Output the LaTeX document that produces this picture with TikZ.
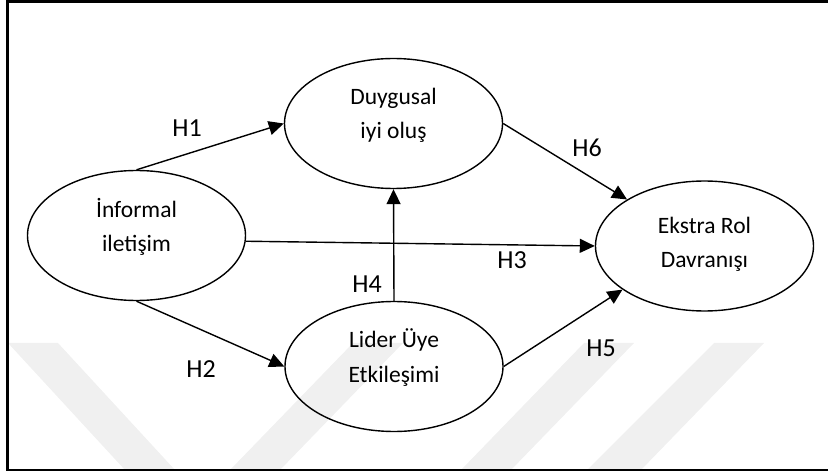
\documentclass[tikz,border=0pt]{standalone}
\usepackage{fontspec}
\setmainfont{Carlito}
\usetikzlibrary{shapes.geometric,arrows.meta}
\begin{document}
\begin{tikzpicture}[x=1pt,y=-1pt,
  oval/.style={draw,ellipse,line width=1.4pt,minimum width=218pt,minimum height=130pt,inner sep=0pt},
  ovaltext/.style={align=center,font=\fontsize{23.5}{34.5}\selectfont,inner sep=0pt},
  hyp/.style={font=\fontsize{26}{30}\selectfont,inner sep=0pt},
  link/.style={line width=1.4pt,-{Triangle[length=15pt,width=14pt]}},
  wmband/.style={fill=black!6,draw=none}]
\useasboundingbox (0,0) rectangle (828,473);

% faint background bands
\fill[wmband] (461,470) -- (584,343) -- (634,343) -- (511,470) -- cycle;
\fill[wmband] (587,470) -- (714,343) -- (764,343) -- (641,470) -- cycle;
\fill[wmband] (8,343) -- (58,343) -- (175,470) -- (125,470) -- cycle;
\fill[wmband] (230,470) -- (353,343) -- (403,343) -- (280,470) -- cycle;

% frame
\draw[line width=2.4pt] (7.5,1.5) rectangle (832,470);

% constructs
\node[oval] (inf) at (136.5,235.5) {};
\node[oval] (duy) at (393.5,123.5) {};
\node[oval] (eks) at (704.5,246) {};
\node[oval] (lid) at (394,366.5) {};

\node[ovaltext] (inft) at (136.5,227) {İnformal\\iletişim};
\node[ovaltext] (duyt) at (393.5,115.5) {Duygusal\\iyi oluş};
\node[ovaltext] (ekst) at (704.5,244.5) {Ekstra Rol\\Davranışı};
\node[ovaltext] (lidt) at (394,357.5) {Lider Üye\\Etkileşimi};

% hypothesised paths
\draw[link] (inf.north) -- (duy.west);
\draw[link] (inf.south) -- (lid.west);
\draw[link] (inf.-3) -- (eks.west);
\draw[link] (lid.north) -- (duy.south);
\draw[link] (lid.east) -- (eks.208);
\draw[link] (duy.east) -- (eks.149);

% path labels
\node[hyp] (h1) at (187,128) {H1};
\node[hyp] (h2) at (201,369) {H2};
\node[hyp] (h3) at (512,260) {H3};
\node[hyp] (h4) at (367,284) {H4};
\node[hyp] (h5) at (601,348) {H5};
\node[hyp] (h6) at (587,148) {H6};
\end{tikzpicture}
\end{document}
